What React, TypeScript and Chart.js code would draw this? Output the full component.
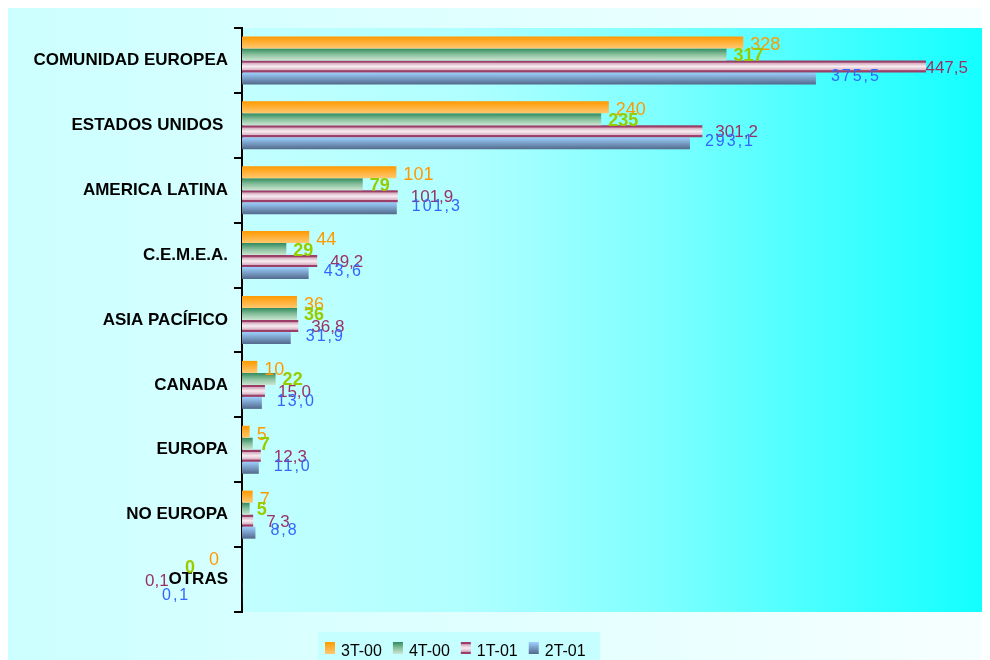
import React, { useEffect, useRef } from 'react';
import { Chart, registerables } from 'chart.js';

Chart.register(...registerables);

// ---------- data ----------
const categories = [
  'COMUNIDAD EUROPEA',
  'ESTADOS UNIDOS ',
  'AMERICA LATINA',
  'C.E.M.E.A.',
  'ASIA PACÍFICO',
  'CANADA',
  'EUROPA',
  'NO EUROPA',
  'OTRAS',
];
const seriesNames = ['3T-00', '4T-00', '1T-01', '2T-01'];
const values3T00 = [328, 240, 101, 44, 36, 10, 5, 7, 0];
const values4T00 = [317, 235, 79, 29, 36, 22, 7, 5, 0];
const values1T01 = [447.5, 301.2, 101.9, 49.2, 36.8, 15.0, 12.3, 7.3, 0.1];
const values2T01 = [375.5, 293.1, 101.3, 43.6, 31.9, 13.0, 11.0, 8.8, 0.1];
const xMax = 489.4;

// ---------- styles ----------
const FONT = '"Liberation Sans", Arial, sans-serif';
const barStops: [number, string][][] = [
  [[0, '#ff9900'], [1, '#ffc870']],
  [[0, '#2f8a5e'], [0.5, '#88c09c'], [1, '#cce6d2']],
  [[0, '#9c3f68'], [0.15, '#9c3f68'], [0.22, '#d7aec1'], [0.5, '#f7edf2'], [0.78, '#dcb6c7'], [0.85, '#9c3f68'], [1, '#9c3f68']],
  [[0, '#9dd0ff'], [1, '#52698a']],
];
const solidColors = ['#ff9900', '#3d9470', '#993366', '#6f8fb8'];
const labelStyles = [
  { color: '#ff9900', size: 18, weight: 'normal', dx: 7, dy: 1.5, ls: 0, decimals: 0, zeroDx: -33, zeroDy: -3 },
  { color: '#99cc00', size: 18, weight: 'bold', dx: 7, dy: 0, ls: 0, decimals: 0, zeroDx: -57, zeroDy: -7 },
  { color: '#993366', size: 17, weight: 'normal', dx: 13, dy: 0, ls: 0, decimals: 1, zeroDx: -97, zeroDy: -6 },
  { color: '#3366ff', size: 16, weight: 'normal', dx: 15, dy: -3, ls: 2, decimals: 1, zeroDx: -80, zeroDy: -3 },
];

function makeGradient(ctx: CanvasRenderingContext2D, top: number, h: number, stops: [number, string][]) {
  const g = ctx.createLinearGradient(0, top, 0, top + h);
  stops.forEach(([o, c]) => g.addColorStop(o, c));
  return g;
}

const backgroundPlugin = {
  id: 'bgPlugin',
  beforeDraw(chart: any) {
    const { ctx, width, height, chartArea } = chart;
    ctx.save();
    const outer = ctx.createLinearGradient(0, 0, width, 0);
    outer.addColorStop(0, '#ccffff');
    outer.addColorStop(1, '#f7ffff');
    ctx.fillStyle = outer;
    ctx.fillRect(0, 0, width, height);
    const { left, top, right, bottom } = chartArea;
    const inner = ctx.createLinearGradient(left, 0, right, 0);
    inner.addColorStop(0, '#c2ffff');
    inner.addColorStop(0.3, '#b0ffff');
    inner.addColorStop(0.55, '#80ffff');
    inner.addColorStop(0.8, '#40ffff');
    inner.addColorStop(1, '#10ffff');
    ctx.fillStyle = inner;
    ctx.fillRect(left, top, right - left, bottom - top);
    ctx.restore();
  },
};

const gradientBarsPlugin = {
  id: 'gradBars',
  beforeDatasetsDraw(chart: any) {
    const ctx = chart.ctx;
    chart.data.datasets.forEach((_: any, i: number) => {
      const meta = chart.getDatasetMeta(i);
      meta.data.forEach((el: any) => {
        const { y, height } = el.getProps(['y', 'height'], true);
        el.options.backgroundColor = makeGradient(ctx, y - height / 2, height, barStops[i]);
      });
    });
  },
};

const valueLabelsPlugin = {
  id: 'valueLabels',
  afterDatasetsDraw(chart: any) {
    const ctx = chart.ctx;
    const right = chart.chartArea.right;
    chart.data.datasets.forEach((ds: any, i: number) => {
      const st = labelStyles[i];
      const meta = chart.getDatasetMeta(i);
      ctx.save();
      ctx.font = `${st.weight} ${st.size}px ${FONT}`;
      ctx.fillStyle = st.color;
      ctx.textAlign = 'left';
      ctx.textBaseline = 'alphabetic';
      (ctx as any).letterSpacing = `${st.ls}px`;
      meta.data.forEach((el: any, j: number) => {
        const v = ds.data[j];
        const txt = st.decimals ? v.toFixed(st.decimals).replace('.', ',') : String(v);
        const w = ctx.measureText(txt).width;
        const { x, y, base } = el.getProps(['x', 'y', 'base'], true);
        let tx: number;
        let ty: number;
        if (v < 1) {
          tx = base + st.zeroDx;
          ty = y + st.zeroDy;
        } else {
          tx = Math.min(x + st.dx, right - w - 22);
          ty = y + st.dy;
        }
        ctx.fillText(txt, tx, ty + st.size * 0.358);
      });
      (ctx as any).letterSpacing = '0px';
      ctx.restore();
    });
  },
};

const legendPlugin = {
  id: 'customLegend',
  afterDraw(chart: any) {
    const ctx = chart.ctx;
    const boxX = 310;
    const boxY = 624;
    ctx.save();
    ctx.fillStyle = '#c6ffff';
    ctx.fillRect(boxX, boxY, 282, 28);
    ctx.font = `16px ${FONT}`;
    ctx.textAlign = 'left';
    ctx.textBaseline = 'alphabetic';
    let x = boxX + 7;
    const swTop = boxY + 10;
    chart.data.datasets.forEach((ds: any, i: number) => {
      ctx.fillStyle = makeGradient(ctx, swTop, 12, barStops[i]);
      ctx.fillRect(x, swTop, 10, 12);
      ctx.fillStyle = '#000';
      ctx.fillText(ds.label, x + 16, boxY + 18.7 + 16 * 0.358);
      x += 16 + ctx.measureText(ds.label).width + 11;
    });
    ctx.restore();
  },
};

export default function App() {
  const ref = useRef<HTMLCanvasElement | null>(null);

  useEffect(() => {
    document.documentElement.style.overflow = 'hidden';
    document.body.style.overflow = 'hidden';
    const canvas = ref.current;
    if (!canvas) return;
    const series = [values3T00, values4T00, values1T01, values2T01];
    const chart = new Chart(canvas, {
      type: 'bar',
      data: {
        labels: categories,
        datasets: series.map((vals, i) => ({
          label: seriesNames[i],
          data: vals,
          backgroundColor: () => solidColors[i],
          borderWidth: 0,
          categoryPercentage: 0.74,
          barPercentage: 1,
        })),
      },
      options: {
        indexAxis: 'y',
        responsive: false,
        animation: false,
        devicePixelRatio: 1,
        layout: { padding: { top: 20, bottom: 48, left: 0, right: 0 } },
        plugins: {
          legend: { display: false },
          tooltip: { enabled: false },
        },
        scales: {
          x: {
            display: false,
            min: 0,
            max: xMax,
          },
          y: {
            type: 'category',
            grid: {
              display: true,
              drawOnChartArea: false,
              drawTicks: true,
              tickLength: 8,
              color: '#000',
              lineWidth: 2,
              offset: true,
            },
            border: { display: true, color: '#000', width: 2 },
            ticks: {
              color: '#000',
              font: { family: FONT, size: 17, weight: 'bold' },
              padding: 6,
              autoSkip: false,
            },
            afterFit: (s: any) => {
              s.width = 234;
            },
          },
        },
      } as any,
      plugins: [backgroundPlugin, gradientBarsPlugin, valueLabelsPlugin, legendPlugin],
    });
    return () => chart.destroy();
  }, []);

  return <canvas ref={ref} width={982} height={652} style={{ display: 'block' }} />;
}
